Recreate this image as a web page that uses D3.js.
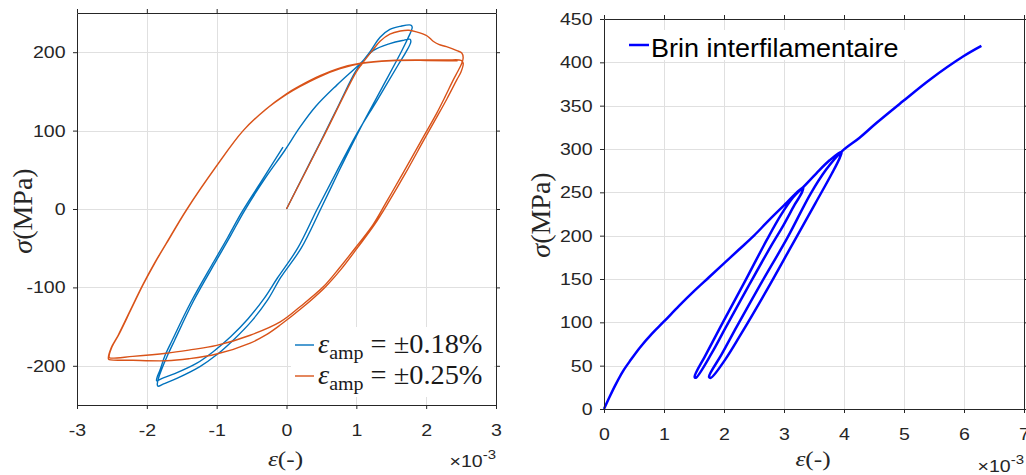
<!DOCTYPE html>
<html><head><meta charset="utf-8">
<script src="https://cdn.jsdelivr.net/npm/d3@7"></script>
<style>body{margin:0;background:#fff}svg{display:block}</style>
</head><body>
<svg id="c" width="1026" height="475"></svg>
<script>
// ---------- data ----------
const leftXTicks = [-3, -2, -1, 0, 1, 2, 3];
const leftYTicks = [-200, -100, 0, 100, 200];
const rightXTicks = [0, 1, 2, 3, 4, 5, 6, 7];
const rightYTicks = [0, 50, 100, 150, 200, 250, 300, 350, 400, 450];

// eps_amp = ±0.18 %  (strain x1e-3, stress MPa)
const blueEps = [0,0.25,0.5,0.75,1.0,1.2,1.34,1.48,1.63,1.78,
  1.80,1.74,1.64,1.34,1.04,0.76,0.49,0.21,-0.08,-0.27,-0.5,-0.76,-1.0,-1.24,-1.57,-1.76,-1.84,
  -1.85,-1.83,-1.79,-1.70,-1.60,-1.33,-1.0,-0.80,-0.60,-0.30,-0.03,0.19,0.42,0.72,1.05,1.24,1.48,1.66,1.77,
  1.78,1.71,1.60,1.30,1.00,0.72,0.44,0.16,-0.13,-0.32,-0.55,-0.80,-1.05,-1.29,-1.60,-1.78,-1.86,
  -1.85,-1.81,-1.74,-1.64,-1.37,-1.04,-0.84,-0.64,-0.34,-0.05];
const blueSig = [0,44,88,133,177,201,219,229,233,234.5,
  232,218,200,150,100,50,0,-50,-87,-116,-143,-167,-186,-201,-216,-223,-226,
  -224,-215,-205,-186,-167,-117,-65,-34,-2,40,74,104,131,158,185,202,211,215,216.5,
  213,200,184,139,95,48,0,-50,-88,-114,-140,-163,-182,-197,-210,-216,-219,
  -214,-205,-187,-168,-119,-67,-36,-4,38,79];

// eps_amp = ±0.25 %
const orangeEps = [0,0.5,1.0,1.08,1.22,1.34,1.48,1.63,1.75,1.86,2.01,2.10,2.18,2.29,2.44,2.51,
  2.53,2.51,2.45,2.39,2.27,2.15,1.96,1.67,1.45,1.24,1.0,0.76,0.53,0.19,-0.09,-0.52,-1.0,-1.4,-1.72,-2.2,-2.53,
  -2.54,-2.50,-2.40,-2.22,-2.05,-1.88,-1.72,-1.43,-1.0,-0.62,-0.30,0.0,0.19,0.48,0.77,1.06,1.5,2.0,2.3,2.5,
  2.53,2.50,2.44,2.30,2.17,1.98,1.70,1.47,1.26,1.02,0.78,0.55,0.21,-0.09,-0.30,-0.52,-1.0,-1.4,-1.72,-2.2,-2.54,
  -2.55,-2.51,-2.41,-2.23,-2.06,-1.89,-1.73,-1.44,-1.01,-0.63,-0.31,0.0,0.19,0.48,0.77,1.06,1.5,2.0,2.45];
const orangeSig = [0,87,175,185,201,214,223,227,228,226,221,214,210,207,202,199,
  193,186,175,165,143,122,92,46,12,-20,-48,-75,-99,-125,-144,-161,-174,-180,-184,-188,-190,
  -189,-176,-160,-127,-96,-68,-44,-1,55,100,127,147,157,170,180,186,189.5,190,190,189.5,
  186,175,165,141,120,90,45,10,-20,-49,-77,-100,-127,-148,-161,-171,-185,-191,-193.6,-193,-192,
  -191,-177,-161,-128,-97,-69,-45,-2,54,99,126,146,156,169,179,185.5,189,189.5,189];

// Brin interfilamentaire
const brinEps = [0,0.1,0.2,0.32,0.45,0.6,0.8,1.0,1.25,1.5,1.75,2.0,2.25,2.5,2.75,3.0,3.32,
  3.30,3.18,2.99,2.80,2.41,2.02,1.80,1.53,
  1.51,1.70,1.95,2.34,2.72,2.95,3.15,3.32,
  3.54,3.76,3.96,
  3.93,3.80,3.52,3.14,2.72,2.28,2.02,1.78,
  1.75,1.96,2.18,2.61,3.06,3.44,3.70,3.96,
  4.26,4.54,4.98,5.43,5.99,6.29];
const brinSig = [0,15,29,44,57,71,87,101,119,136,152,168,184,200,218,235,256,
  250,236,212,190,142,93,65,36,
  37,63,96,146,196,224,244,256,
  272,287,297,
  290,272,237,190,138,86,57,36,
  37,63,91,144,198,248,276,297,
  313,330,355,380,407,419];

const leftLegend = ["±0.18%", "±0.25%"];
const rightLegend = "Brin interfilamentaire";

// ---------- drawing ----------
const svg = d3.select("#c");
const AX = "#262626", GRID = "#e0e0e0";
const SX = 1.15;
const curve = d3.curveCatmullRom.alpha(0.5);

function panel(x, y, xt, yt) {
  const g = svg.append("g");
  const [x0, x1] = x.range(), [y0, y1] = y.range();
  g.selectAll(".gx").data(xt).join("line")
    .attr("x1", d => Math.round(x(d)) + 0.5).attr("x2", d => Math.round(x(d)) + 0.5)
    .attr("y1", y0).attr("y2", y1).attr("stroke", GRID).attr("stroke-width", 1);
  g.selectAll(".gy").data(yt).join("line")
    .attr("y1", d => Math.round(y(d)) + 0.5).attr("y2", d => Math.round(y(d)) + 0.5)
    .attr("x1", x0).attr("x2", x1).attr("stroke", GRID).attr("stroke-width", 1);
  return g;
}

function axes(g, x, y, xt, yt) {
  const [x0, x1] = x.range(), [y0, y1] = y.range();
  const fmt = d => String(d);
  const style = sel => {
    sel.select(".domain").attr("stroke", AX);
    sel.selectAll(".tick line").attr("stroke", AX);
    sel.selectAll(".tick text").attr("fill", AX)
      .style("font-family", "'Liberation Sans', Arial, sans-serif").style("font-size", "17px");
  };
  const b = g.append("g").attr("transform", `translate(0,${y0})`)
    .call(d3.axisBottom(x).tickValues(xt).tickFormat(fmt).tickSize(4).tickSizeOuter(0).tickPadding(15));
  style(b); b.selectAll(".tick text").attr("transform", `scale(${SX},1)`);
  const t = g.append("g").attr("transform", `translate(0,${y1})`)
    .call(d3.axisTop(x).tickValues(xt).tickFormat("").tickSize(4).tickSizeOuter(0));
  style(t);
  const l = g.append("g").attr("transform", `translate(${x0},0)`)
    .call(d3.axisLeft(y).tickValues(yt).tickFormat(fmt).tickSize(4).tickSizeOuter(0).tickPadding(6));
  style(l); l.selectAll(".tick text").attr("transform", `scale(${SX},1)`);
  const r = g.append("g").attr("transform", `translate(${x1},0)`)
    .call(d3.axisRight(y).tickValues(yt).tickFormat("").tickSize(4).tickSizeOuter(0));
  style(r);
}

function labels(cx, by, yx, yy, rx, ry) {
  const xl = svg.append("g").attr("transform", `translate(${cx},${by}) scale(${SX},1)`)
    .append("text").attr("text-anchor", "middle").attr("fill", AX)
    .style("font-family", "'Liberation Serif', 'DejaVu Serif', serif").style("font-size", "22px");
  xl.append("tspan").attr("font-style", "italic").text("ε");
  xl.append("tspan").text("(-)");
  const yl = svg.append("g").attr("transform", `translate(${yx},${yy}) rotate(-90)`)
    .append("text").attr("text-anchor", "middle").attr("fill", AX)
    .style("font-family", "'Liberation Serif', 'DejaVu Serif', serif").style("font-size", "28px");
  yl.append("tspan").attr("font-style", "italic").text("σ");
  yl.append("tspan").text("(MPa)");
  const ex = svg.append("g").attr("transform", `translate(${rx},${ry}) scale(${SX},1)`)
    .append("text").attr("text-anchor", "end").attr("fill", AX)
    .style("font-family", "'Liberation Sans', Arial, sans-serif").style("font-size", "17px");
  ex.append("tspan").text("×10");
  ex.append("tspan").attr("dy", -8).style("font-size", "13px").text("-3");
}

// ----- left panel -----
const xL = d3.scaleLinear().domain([-3, 3]).range([77, 496]);
const yL = d3.scaleLinear().domain([-250, 250]).range([405, 13]);
const gL = panel(xL, yL, leftXTicks, leftYTicks);
const lineL = d3.line().x(d => xL(d[0])).y(d => yL(d[1])).curve(curve);
gL.append("path").datum(blueEps.map((e, i) => [e, blueSig[i]])).attr("d", lineL)
  .attr("fill", "none").attr("stroke", "#0072BD").attr("stroke-width", 1.4).attr("stroke-linejoin", "round");
gL.append("path").datum(orangeEps.map((e, i) => [e, orangeSig[i]])).attr("d", lineL)
  .attr("fill", "none").attr("stroke", "#D95319").attr("stroke-width", 1.4).attr("stroke-linejoin", "round");
gL.append("rect").attr("x", 291).attr("y", 327).attr("width", 203).attr("height", 70).attr("fill", "#fff");
const legCol = ["#0072BD", "#D95319"];
leftLegend.forEach((s, i) => {
  const ly = 345 + i * 31;
  gL.append("line").attr("x1", 295).attr("x2", 314).attr("y1", ly).attr("y2", ly)
    .attr("stroke", legCol[i]).attr("stroke-width", 1.4);
  const t = gL.append("g").attr("transform", `translate(318,${ly + 8}) scale(1.05,1)`)
    .append("text").attr("fill", "#1a1a1a")
    .style("font-family", "'Liberation Serif', 'DejaVu Serif', serif").style("font-size", "27px");
  t.append("tspan").attr("font-style", "italic").text("ε");
  t.append("tspan").attr("dy", 6).style("font-size", "19px").text("amp");
  t.append("tspan").attr("dy", -6).text(" = " + s);
});
axes(gL, xL, yL, leftXTicks, leftYTicks);
labels(285.5, 466, 32, 211, 496, 467);

// ----- right panel -----
const xR = d3.scaleLinear().domain([0, 7]).range([604, 1024]);
const yR = d3.scaleLinear().domain([0, 450]).range([409, 19]);
const gR = panel(xR, yR, rightXTicks, rightYTicks);
const lineR = d3.line().x(d => xR(d[0])).y(d => yR(d[1])).curve(curve);
gR.append("rect").attr("x", 624).attr("y", 30).attr("width", 282).attr("height", 30).attr("fill", "#fff");
gR.append("path").datum(brinEps.map((e, i) => [e, brinSig[i]])).attr("d", lineR)
  .attr("fill", "none").attr("stroke", "#0000FF").attr("stroke-width", 2.5).attr("stroke-linejoin", "round");
gR.append("line").attr("x1", 629).attr("x2", 649).attr("y1", 45).attr("y2", 45)
  .attr("stroke", "#0000FF").attr("stroke-width", 2.5);
gR.append("g").attr("transform", "translate(651,57) scale(1.08,1)")
  .append("text").attr("fill", "#000")
  .style("font-family", "'Liberation Sans', Arial, sans-serif").style("font-size", "25px")
  .text(rightLegend);
axes(gR, xR, yR, rightXTicks, rightYTicks);
labels(813, 466, 550, 215, 1024, 472);
</script>
</body></html>
